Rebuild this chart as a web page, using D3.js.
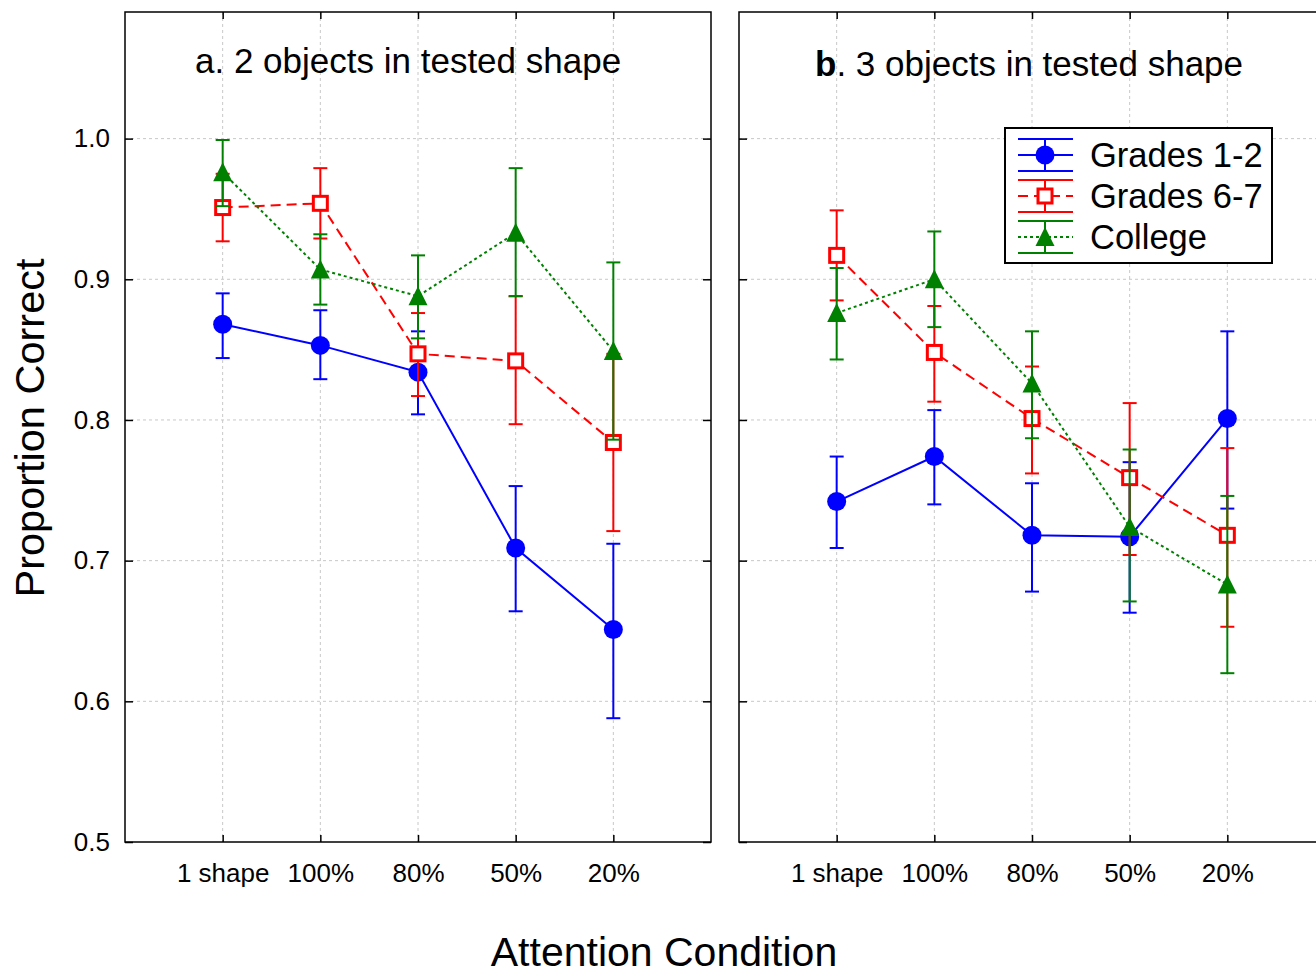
<!DOCTYPE html>
<html>
<head>
<meta charset="utf-8">
<script src="https://cdn.jsdelivr.net/npm/d3@7"></script>
<style>
  body { margin: 0; background: #fff; }
  svg { font-family: "Liberation Sans", Arial, sans-serif; }
</style>
</head>
<body>
<svg width="1316" height="977"></svg>
<script>
// categories / groups
var conditions = ["1 shape", "100%", "80%", "50%", "20%"];
var groups = ["Grades 1-2", "Grades 6-7", "College"];
var yTicks = [0.5, 0.6, 0.7, 0.8, 0.9, 1.0];

// panel a: 2 objects in tested shape
var a_g12 = [0.868, 0.853, 0.834, 0.709, 0.651];
var a_g12_lo = [0.844, 0.829, 0.804, 0.664, 0.588];
var a_g12_hi = [0.890, 0.878, 0.863, 0.753, 0.712];
var a_g67 = [0.951, 0.954, 0.847, 0.842, 0.784];
var a_g67_lo = [0.927, 0.929, 0.817, 0.797, 0.721];
var a_g67_hi = [0.975, 0.979, 0.876, 0.888, 0.847];
var a_col = [0.976, 0.907, 0.888, 0.933, 0.849];
var a_col_lo = [0.952, 0.882, 0.858, 0.888, 0.786];
var a_col_hi = [0.999, 0.932, 0.917, 0.979, 0.912];

// panel b: 3 objects in tested shape
var b_g12 = [0.742, 0.774, 0.718, 0.717, 0.801];
var b_g12_lo = [0.709, 0.740, 0.678, 0.663, 0.737];
var b_g12_hi = [0.774, 0.807, 0.755, 0.770, 0.863];
var b_g67 = [0.917, 0.848, 0.801, 0.759, 0.718];
var b_g67_lo = [0.885, 0.813, 0.762, 0.704, 0.653];
var b_g67_hi = [0.949, 0.881, 0.838, 0.812, 0.780];
var b_col = [0.876, 0.900, 0.826, 0.724, 0.683];
var b_col_lo = [0.843, 0.866, 0.787, 0.671, 0.620];
var b_col_hi = [0.908, 0.934, 0.863, 0.779, 0.746];

var colors = ["#0000ff", "#ff0000", "#008000"];
var dashes = [null, "10,6", "3,3"];
var shapes = ["circle", "square", "triangle"];

var svg = d3.select("svg");
var top_y = 12, bottom_y = 842, pw = 586;

var y = d3.scaleLinear().domain([0.5, 1.09]).range([bottom_y, top_y]);

function drawMarker(sel, shape, color) {
    if (shape == "circle") {
        sel.append("circle").attr("r", 9.5).attr("fill", color);
    } else if (shape == "square") {
        sel.append("rect").attr("x", -7).attr("y", -7).attr("width", 14).attr("height", 14)
            .attr("fill", "#fff").attr("stroke", color).attr("stroke-width", 3);
    } else {
        sel.append("path").attr("d", "M0,-10L9.5,9L-9.5,9Z").attr("fill", color);
    }
}

function panel(left, series, showLabels) {
    var x = d3.scalePoint().domain(conditions).range([left, left + pw]).padding(1);
    var g = svg.append("g");

    // gridlines
    g.append("g").selectAll("line").data(conditions).join("line")
        .attr("x1", d => x(d)).attr("x2", d => x(d))
        .attr("y1", top_y).attr("y2", bottom_y)
        .attr("stroke", "#c8c8c8").attr("stroke-width", 1).attr("stroke-dasharray", "3,3");
    g.append("g").selectAll("line").data(yTicks.slice(1)).join("line")
        .attr("x1", left).attr("x2", left + pw)
        .attr("y1", d => y(d)).attr("y2", d => y(d))
        .attr("stroke", "#c8c8c8").attr("stroke-width", 1).attr("stroke-dasharray", "3,3");

    // axes, ticks pointing inward
    var yl = g.append("g").attr("transform", "translate(" + left + ",0)")
        .call(d3.axisLeft(y).tickValues(yTicks).tickSizeInner(-8).tickSizeOuter(0).tickPadding(15)
            .tickFormat(showLabels ? d3.format(".1f") : ""));
    var yr = g.append("g").attr("transform", "translate(" + (left + pw) + ",0)")
        .call(d3.axisRight(y).tickValues(yTicks).tickSizeInner(-8).tickSizeOuter(0).tickFormat(""));
    var xb = g.append("g").attr("transform", "translate(0," + bottom_y + ")")
        .call(d3.axisBottom(x).tickSizeInner(-7).tickSizeOuter(0).tickPadding(22));
    var xt = g.append("g").attr("transform", "translate(0," + top_y + ")")
        .call(d3.axisTop(x).tickSizeInner(-7).tickSizeOuter(0).tickFormat(""));
    [yl, yr, xb, xt].forEach(function(a) {
        a.select(".domain").remove();
        a.selectAll("line").attr("stroke", "#000").attr("stroke-width", 1.5);
        a.selectAll("text").attr("font-size", 26).attr("fill", "#000")
            .attr("font-family", "'Liberation Sans', Arial, sans-serif");
    });

    g.append("rect").attr("x", left).attr("y", top_y).attr("width", pw).attr("height", bottom_y - top_y)
        .attr("fill", "none").attr("stroke", "#000").attr("stroke-width", 1.5);

    series.forEach(function(s, i) {
        var pts = conditions.map((c, j) => ({ c: c, m: s.mean[j], lo: s.lo[j], hi: s.hi[j] }));
        var sg = g.append("g");
        sg.append("path").datum(pts)
            .attr("fill", "none").attr("stroke", colors[i]).attr("stroke-width", 2)
            .attr("stroke-dasharray", dashes[i])
            .attr("d", d3.line().x(d => x(d.c)).y(d => y(d.m)));
        var eb = sg.append("g").selectAll("g").data(pts).join("g")
            .attr("stroke", colors[i]).attr("stroke-width", 2);
        eb.append("line").attr("x1", d => x(d.c)).attr("x2", d => x(d.c))
            .attr("y1", d => y(d.lo)).attr("y2", d => y(d.hi));
        eb.append("line").attr("x1", d => x(d.c) - 7).attr("x2", d => x(d.c) + 7)
            .attr("y1", d => y(d.lo)).attr("y2", d => y(d.lo));
        eb.append("line").attr("x1", d => x(d.c) - 7).attr("x2", d => x(d.c) + 7)
            .attr("y1", d => y(d.hi)).attr("y2", d => y(d.hi));
        sg.append("g").selectAll("g").data(pts).join("g")
            .attr("transform", d => "translate(" + x(d.c) + "," + y(d.m) + ")")
            .each(function() { drawMarker(d3.select(this), shapes[i], colors[i]); });
    });
    return g;
}

panel(125, [
    { mean: a_g12, lo: a_g12_lo, hi: a_g12_hi },
    { mean: a_g67, lo: a_g67_lo, hi: a_g67_hi },
    { mean: a_col, lo: a_col_lo, hi: a_col_hi }
], true);

panel(739, [
    { mean: b_g12, lo: b_g12_lo, hi: b_g12_hi },
    { mean: b_g67, lo: b_g67_lo, hi: b_g67_hi },
    { mean: b_col, lo: b_col_lo, hi: b_col_hi }
], false);

// panel titles
svg.append("text").attr("x", 195).attr("y", 73).attr("font-size", 35).text("a. 2 objects in tested shape");
var tb = svg.append("text").attr("x", 815).attr("y", 76).attr("font-size", 35);
tb.append("tspan").attr("font-weight", "bold").text("b");
tb.append("tspan").text(". 3 objects in tested shape");

// legend
var lg = svg.append("g").attr("transform", "translate(1005,128)");
lg.append("rect").attr("width", 267).attr("height", 135)
    .attr("fill", "#fff").attr("stroke", "#000").attr("stroke-width", 2);
groups.forEach(function(name, i) {
    var cy = 27 + i * 41;
    var e = lg.append("g").attr("stroke", colors[i]).attr("stroke-width", 2);
    e.append("line").attr("x1", 13).attr("x2", 68).attr("y1", cy - 16).attr("y2", cy - 16);
    e.append("line").attr("x1", 13).attr("x2", 68).attr("y1", cy + 16).attr("y2", cy + 16);
    e.append("line").attr("x1", 40).attr("x2", 40).attr("y1", cy - 16).attr("y2", cy + 16);
    e.append("line").attr("x1", 13).attr("x2", 68).attr("y1", cy).attr("y2", cy)
        .attr("stroke-dasharray", dashes[i]);
    var m = lg.append("g").attr("transform", "translate(40," + cy + ")");
    drawMarker(m, shapes[i], colors[i]);
    lg.append("text").attr("x", 85).attr("y", cy + 12).attr("font-size", 34.5).text(name);
});

// axis titles
svg.append("text").attr("transform", "translate(44,428) rotate(-90)")
    .attr("text-anchor", "middle").attr("font-size", 41.5).text("Proportion Correct");
svg.append("text").attr("x", 664).attr("y", 966)
    .attr("text-anchor", "middle").attr("font-size", 41).text("Attention Condition");
</script>
</body>
</html>
